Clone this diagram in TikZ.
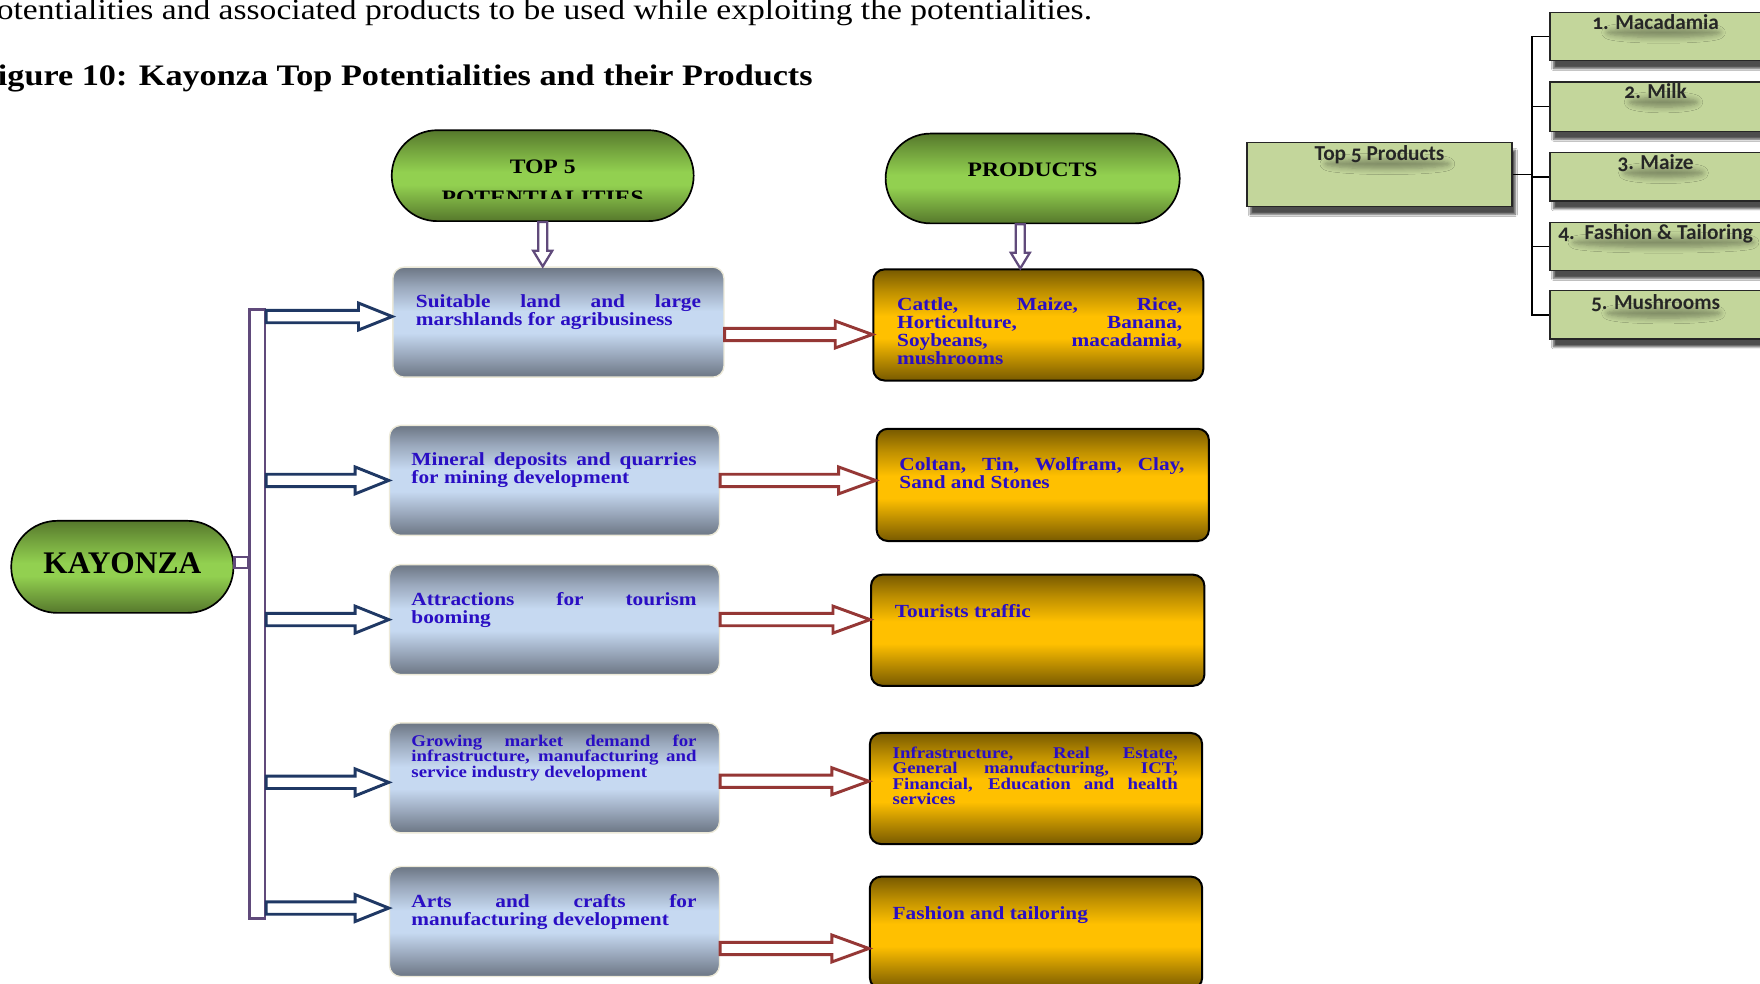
\documentclass[tikz,border=0pt]{standalone}
\usepackage{fontspec}
\setmainfont{Liberation Serif}
\newfontfamily\boxfont{Liberation Serif}[FakeStretch=1.15]
\newfontfamily\bodyfont{Liberation Serif}[FakeStretch=1.15]
\newfontfamily\calfont{Carlito}[Numbers=OldStyle]
\usetikzlibrary{shapes.misc,shapes.geometric,calc,shadows.blur}
\hyphenpenalty=10000
\exhyphenpenalty=10000
\tolerance=10000
\hbadness=10000
\definecolor{txtblue}{RGB}{42,14,196}
\definecolor{gdark}{RGB}{86,120,44}
\definecolor{gmid}{RGB}{116,164,62}
\definecolor{glight}{RGB}{146,208,80}
\definecolor{bdark}{RGB}{108,118,132}
\definecolor{bmid}{RGB}{154,168,188}
\definecolor{blight}{RGB}{198,217,241}
\definecolor{odark}{RGB}{120,90,0}
\definecolor{omid}{RGB}{190,143,0}
\definecolor{olight}{RGB}{255,192,0}
\definecolor{redarr}{RGB}{149,55,53}
\definecolor{navyarr}{RGB}{31,56,100}
\definecolor{purp}{RGB}{96,74,123}
\definecolor{olivefill}{RGB}{195,214,155}
\definecolor{boxedge}{RGB}{236,233,216}
\pgfdeclareverticalshading{greenshade}{100bp}{color(0bp)=(gdark); color(25bp)=(gdark); color(35bp)=(gmid); color(45bp)=(glight); color(52bp)=(glight); color(64bp)=(gmid); color(75bp)=(gdark); color(100bp)=(gdark)}
\pgfdeclareverticalshading{blueshade}{100bp}{color(0bp)=(bdark); color(25bp)=(bdark); color(35bp)=(bmid); color(45bp)=(blight); color(55bp)=(blight); color(66bp)=(bmid); color(75bp)=(bdark); color(100bp)=(bdark)}
\pgfdeclareverticalshading{goldshade}{100bp}{color(0bp)=(odark); color(25bp)=(odark); color(35bp)=(omid); color(44bp)=(olight); color(54bp)=(olight); color(65bp)=(omid); color(75bp)=(odark); color(100bp)=(odark)}
\newcommand\hollowH[6]{%
  \draw[#1] let \p1=#2, \p2=#3 in (\x1,\y1+#4) -- (\x2-#6,\y1+#4) -- (\x2-#6,\y1+#5) -- (\x2,\y1) -- (\x2-#6,\y1-#5) -- (\x2-#6,\y1-#4) -- (\x1,\y1-#4) -- cycle;}
\newcommand\hollowV[6]{%
  \draw[#1] let \p1=#2, \p2=#3 in (\x1-#4,\y1) -- (\x1-#4,\y2+#6) -- (\x1-#5,\y2+#6) -- (\x1,\y2) -- (\x1+#5,\y2+#6) -- (\x1+#4,\y2+#6) -- (\x1+#4,\y1) -- cycle;}
\begin{document}
\begin{tikzpicture}[x=1pt,y=-1pt,
  greenpill/.style={rounded rectangle, draw=black, line width=1.5pt, shading=greenshade, inner sep=0pt},
  bluebox/.style={rectangle, rounded corners=10pt, draw=boxedge, line width=1.2pt, shading=blueshade, inner sep=0pt},
  goldbox/.style={rectangle, rounded corners=10pt, draw=black, line width=1.8pt, shading=goldshade, inner sep=0pt},
  boxtext/.style={anchor=north west, inner sep=0pt, text width=254pt, align=justify, text=txtblue, font=\boxfont\bfseries\fontsize{16.5}{16}\selectfont},
  smalltext/.style={boxtext, font=\boxfont\bfseries\fontsize{14.6}{13.8}\selectfont},
  headtext/.style={anchor=base, inner sep=0pt, font=\boxfont\bfseries\fontsize{18.3}{20}\selectfont},
  redarrow/.style={draw=redarr, line width=2.6pt, fill=white, line join=miter},
  navyarrow/.style={draw=navyarr, line width=2.6pt, fill=white, line join=miter},
  purparrow/.style={draw=purp, line width=2pt, fill=white, line join=miter},
  olivebox/.style={rectangle, draw=black!85, line width=1.3pt, fill=olivefill, inner sep=0pt,
     blur shadow={shadow xshift=3pt, shadow yshift=-7pt, shadow blur steps=6, shadow opacity=70}},
  textblur/.style={ellipse, inner sep=0pt, minimum height=9pt,
     blur shadow={shadow xshift=0pt, shadow yshift=0pt, shadow blur radius=5pt, shadow blur steps=6, shadow opacity=35}},
  caltext/.style={anchor=base, inner sep=0pt, text=black!85, font=\calfont\bfseries\fontsize{19}{19}\selectfont},
  treeline/.style={draw=black, line width=1.3pt}
]
\useasboundingbox[fill=white] (0,0) rectangle (1568,876);

% top text
\node[anchor=base west, inner sep=0pt, font=\bodyfont\fontsize{26}{28}\selectfont] (line1) at (-3,17) {otentialities and associated products to be used while exploiting the potentialities.};
\node[anchor=base west, inner sep=0pt, font=\bodyfont\bfseries\fontsize{26.5}{28}\selectfont] (title) at (-2,76) {igure 10: Kayonza Top Potentialities and their Products};

% header pills
\node[greenpill, minimum width=269pt, minimum height=81pt] (top5) at (483.5,156.5) {};
\begin{scope}
  \clip (349,120) rectangle (618,177);
  \node[headtext] (top5a) at (483.5,155) {TOP 5};
  \node[headtext] (top5b) at (483.5,182) {POTENTIALITIES};
\end{scope}
\node[greenpill, minimum width=262pt, minimum height=80pt] (prod) at (920,159) {};
\node[headtext] (prodt) at (920,157) {PRODUCTS};

% KAYONZA
\node[greenpill, minimum width=198pt, minimum height=82pt] (kay) at (109,505) {};
\node[anchor=base, inner sep=0pt, font=\bfseries\fontsize{28}{30}\selectfont] (kayt) at (109,511) {KAYONZA};

% blue boxes
\node[bluebox, minimum width=295pt, minimum height=98pt] (b1) at (497.5,287) {};
\node[bluebox, minimum width=294pt, minimum height=98pt] (b2) at (494,428) {};
\node[bluebox, minimum width=294pt, minimum height=98pt] (b3) at (494,552) {};
\node[bluebox, minimum width=294pt, minimum height=98pt] (b4) at (494,693) {};
\node[bluebox, minimum width=294pt, minimum height=98pt] (b5) at (494,821) {};
\node[boxtext] (b1t) at ($(b1.north west)+(21,25)$) {Suitable land and large marshlands for agribusiness};
\node[boxtext] (b2t) at ($(b2.north west)+(20,25)$) {Mineral deposits and quarries for mining development};
\node[boxtext] (b3t) at ($(b3.north west)+(20,25)$) {Attractions for tourism booming};
\node[smalltext] (b4t) at ($(b4.north west)+(20,11)$) {Growing market demand for infrastructure, manufacturing and service industry development};
\node[boxtext] (b5t) at ($(b5.north west)+(20,25)$) {Arts and crafts for manufacturing development};

% gold boxes
\node[goldbox, minimum width=294pt, minimum height=99pt] (g1) at (925,289.5) {};
\node[goldbox, minimum width=296pt, minimum height=100pt] (g2) at (929,432) {};
\node[goldbox, minimum width=297pt, minimum height=99pt] (g3) at (924.5,561.5) {};
\node[goldbox, minimum width=296pt, minimum height=99pt] (g4) at (923,702.5) {};
\node[goldbox, minimum width=296pt, minimum height=100pt] (g5) at (923,831) {};
\node[boxtext] (g1t) at ($(g1.north west)+(22,26)$) {Cattle, Maize, Rice, Horticulture, Banana, Soybeans, macadamia, mushrooms};
\node[boxtext] (g2t) at ($(g2.north west)+(21,26)$) {Coltan, Tin, Wolfram, Clay, Sand and Stones};
\node[boxtext] (g3t) at ($(g3.north west)+(22,27)$) {Tourists traffic};
\node[smalltext] (g4t) at ($(g4.north west)+(21,13)$) {Infrastructure, Real Estate, General manufacturing, ICT, Financial, Education and health services};
\node[boxtext] (g5t) at ($(g5.north west)+(21,27)$) {Fashion and tailoring};

% bracket
\node[rectangle, draw=purp, line width=2.4pt, fill=white, minimum width=14pt, minimum height=542pt, inner sep=0pt] (brk) at (229,547) {};
\draw[draw=purp, line width=2.2pt, fill=white] ($(kay.east)+(0,-9)$) rectangle ($(kay.east -| brk.west)+(0,1)$);

% down arrows
\hollowV{purparrow}{(top5.south)}{(b1.north)}{4pt}{8.5pt}{14pt}
\hollowV{purparrow}{($(prod.south)+(-11,0)$)}{(g1.north)}{4pt}{8.5pt}{14pt}

% navy arrows from bracket
\hollowH{navyarrow}{($(b1.west -| brk.east)+(0,-5)$)}{(b1.west)}{5.5pt}{12pt}{30pt}
\hollowH{navyarrow}{(b2.west -| brk.east)}{(b2.west)}{5.5pt}{12pt}{30pt}
\hollowH{navyarrow}{(b3.west -| brk.east)}{(b3.west)}{5.5pt}{12pt}{30pt}
\hollowH{navyarrow}{($(b4.west -| brk.east)+(0,4)$)}{(b4.west)}{5.5pt}{12pt}{30pt}
\hollowH{navyarrow}{($(b5.west -| brk.east)+(0,-12)$)}{(b5.west)}{5.5pt}{12pt}{30pt}

% red arrows
\hollowH{redarrow}{($(b1.east)+(0,11)$)}{(g1.west)}{5.5pt}{12pt}{33pt}
\hollowH{redarrow}{(b2.east)}{(g2.west)}{5.5pt}{12pt}{33pt}
\hollowH{redarrow}{(b3.east)}{(g3.west)}{5.5pt}{12pt}{33pt}
\hollowH{redarrow}{($(b4.east)+(0,3)$)}{(g4.west)}{5.5pt}{12pt}{33pt}
\hollowH{redarrow}{($(b5.east)+(0,24)$)}{(g5.west)}{5.5pt}{12pt}{33pt}

% right panel
\node[olivebox, minimum width=236pt, minimum height=57pt] (t5) at (1229,155.5) {};
\node[olivebox, minimum width=189pt, minimum height=43pt] (p1) at (1475.5,32.5) {};
\node[olivebox, minimum width=189pt, minimum height=44pt] (p2) at (1475.5,95) {};
\node[olivebox, minimum width=189pt, minimum height=43pt] (p3) at (1475.5,157.5) {};
\node[olivebox, minimum width=189pt, minimum height=43pt] (p4) at (1475.5,219.5) {};
\node[olivebox, minimum width=189pt, minimum height=43pt] (p5) at (1475.5,280.5) {};
\coordinate (tx) at (1365,155.5);
\draw[treeline] (t5.east) -- (tx);
\draw[treeline] (p1.west) -- (p1.west -| tx) -- (p5.west -| tx) -- (p5.west);
\draw[treeline] (p2.west) -- (p2.west -| tx);
\draw[treeline] (p3.west) -- (p3.west -| tx);
\draw[treeline] (p4.west) -- (p4.west -| tx);
% soft shadows under the panel texts
\node[textblur, minimum width=110pt] (t5s) at (1236,146) {};
\node[textblur, minimum width=100pt] (p1s) at (1482,29) {};
\node[textblur, minimum width=60pt] (p2s) at (1482,91) {};
\node[textblur, minimum width=70pt] (p3s) at (1482,154) {};
\node[textblur, minimum width=160pt] (p4s) at (1482,216) {};
\node[textblur, minimum width=100pt] (p5s) at (1482,279) {};
\node[caltext] (t5t) at (1229,143) {Top 5 Products};
\node[caltext] (p1t) at (1475,26) {1. Macadamia};
\node[caltext] (p2t) at (1475,88) {2. Milk};
\node[caltext] (p3t) at (1475,151) {3. Maize};
\node[caltext] (p4t) at (1475,213) {4.\ \ Fashion \& Tailoring};
\node[caltext] (p5t) at (1475,276) {5. Mushrooms};
\end{tikzpicture}
\end{document}
